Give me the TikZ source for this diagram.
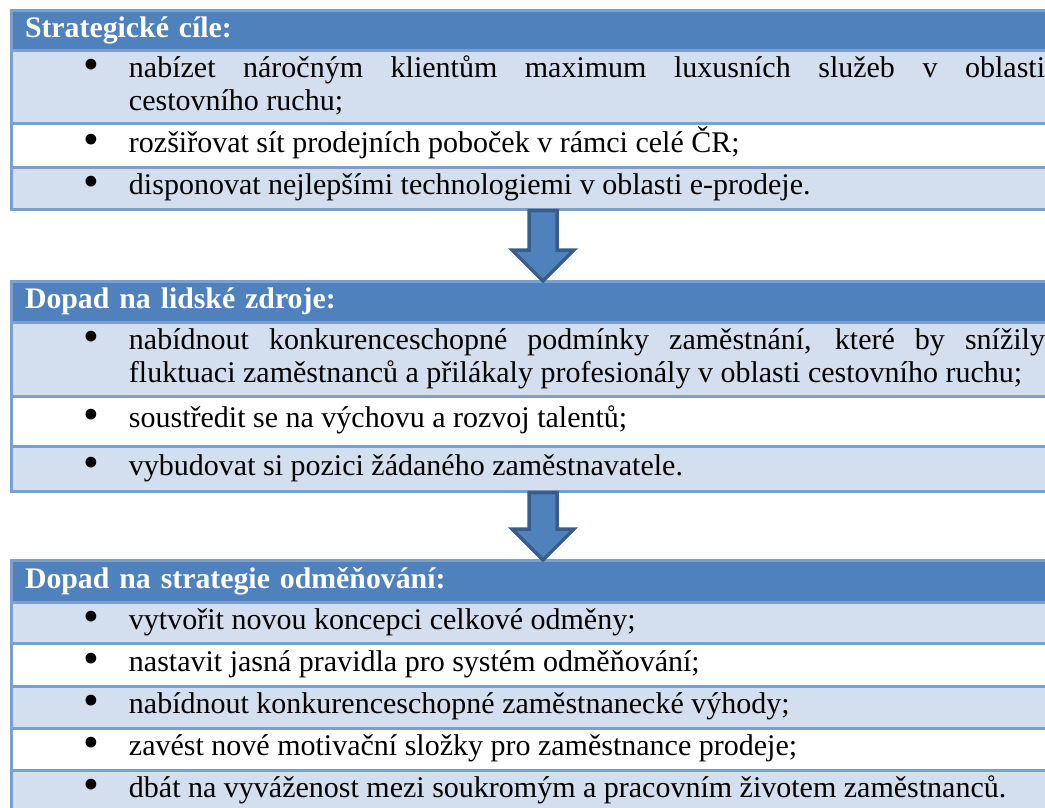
\documentclass[tikz,border=0pt]{standalone}
\usepackage{fontspec}
\setmainfont{Liberation Serif}
\usepackage{xcolor}
\usepackage{tikz}
\usetikzlibrary{positioning, calc}
\definecolor{hlavicka}{HTML}{4F81BD}
\definecolor{mrizka}{HTML}{7BA0CD}
\definecolor{svetla}{HTML}{D3DFEE}
\definecolor{okraj}{HTML}{385D8A}
\tikzstyle{zahlavi} = [rectangle, draw=mrizka, line width=3pt, fill=hlavicka, outer sep=0pt, inner xsep=14pt, inner ysep=0pt, text width=1036pt, align=left, text=white, font=\bfseries\fontsize{29.8}{35}\selectfont]
\tikzstyle{radek} = [rectangle, draw=mrizka, line width=3pt, fill=svetla, outer sep=0pt, inner sep=0pt, font=\fontsize{30}{33}\selectfont]
\tikzstyle{sipka} = [draw=okraj, fill=hlavicka, line width=3.5pt, line join=miter]
\newcommand{\bod}[1]{\parbox{1064pt}{\leftskip=118pt\rightskip=30pt\parfillskip=0pt plus 1fil\hyphenpenalty=10000\tolerance=9999\noindent\llap{\makebox[45pt][l]{\raisebox{-2pt}{\scalebox{1.5}{\textbullet}}}}\strut #1\strut}}

\begin{document}
\begin{tikzpicture}[x=1pt, y=-1pt, node distance=0pt]
    \useasboundingbox (0,0) rectangle (1045,808);
    \clip (0,0) rectangle (1045,808);
    % Strategicke cile
    \node [zahlavi, anchor=north west, minimum height=40pt] (hdr1) at (11,11) {\strut Strategické cíle:};
    \node [radek, minimum height=72pt, below=of hdr1] (r11) {\bod{nabízet náročným klientům maximum luxusních služeb v oblasti\linebreak cestovního ruchu;}};
    \node [radek, fill=white, minimum height=44pt, below=of r11] (r12) {\bod{rozšiřovat sít prodejních poboček v rámci celé ČR;}};
    \node [radek, minimum height=42pt, below=of r12] (r13) {\bod{disponovat nejlepšími technologiemi v oblasti e-prodeje.}};

    % Dopad na lidske zdroje
    \node [zahlavi, minimum height=41pt, below=72pt of r13] (hdr2) {\strut Dopad na lidské zdroje:};
    \node [radek, minimum height=74pt, below=of hdr2] (r21) {\bod{nabídnout konkurenceschopné podmínky zaměstnání, které by snížily fluktuaci zaměstnanců a přilákaly profesionály v oblasti cestovního ruchu;}};
    \node [radek, fill=white, minimum height=50pt, below=of r21] (r22) {\bod{soustředit se na výchovu a rozvoj talentů;}};
    \node [radek, minimum height=45pt, below=of r22] (r23) {\bod{vybudovat si pozici žádaného zaměstnavatele.}};

    % Dopad na strategie odmenovani
    \node [zahlavi, minimum height=42pt, below=69pt of r23] (hdr3) {\strut Dopad na strategie odměňování:};
    \node [radek, minimum height=41pt, below=of hdr3] (r31) {\bod{vytvořit novou koncepci celkové odměny;}};
    \node [radek, fill=white, minimum height=43pt, below=of r31] (r32) {\bod{nastavit jasná pravidla pro systém odměňování;}};
    \node [radek, minimum height=42pt, below=of r32] (r33) {\bod{nabídnout konkurenceschopné zaměstnanecké výhody;}};
    \node [radek, fill=white, minimum height=42pt, below=of r33] (r34) {\bod{zavést nové motivační složky pro zaměstnance prodeje;}};
    \node [radek, minimum height=42pt, below=of r34] (r35) {\bod{dbát na vyváženost mezi soukromým a pracovním životem zaměstnanců.}};

    % Sipky
    \foreach \a/\b in {r13/hdr2, r23/hdr3} {
        \draw [sipka] ($(\a.south)+(-14,1.5)$) -- ($(\a.south)+(14,1.5)$) -- ($(\b.north)+(14,-31)$) -- ($(\b.north)+(31,-31)$) -- (\b.north) -- ($(\b.north)+(-31,-31)$) -- ($(\b.north)+(-14,-31)$) -- cycle;
    }
\end{tikzpicture}
\end{document}
